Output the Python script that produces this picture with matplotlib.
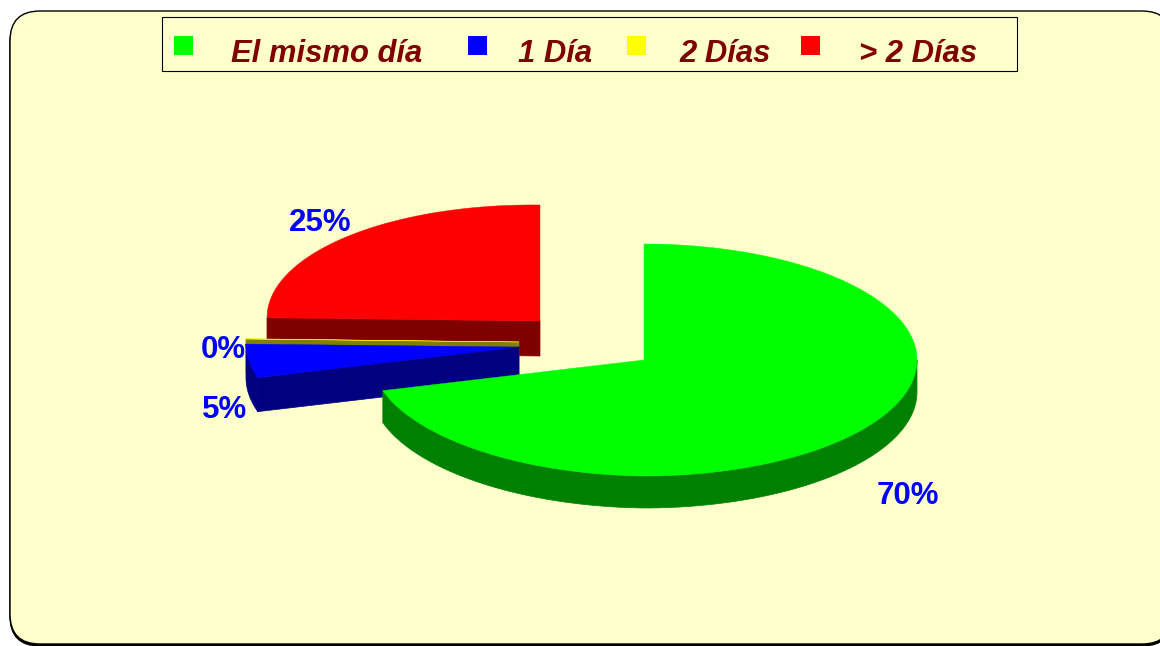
import numpy as np
import matplotlib
matplotlib.use('Agg')
import matplotlib.pyplot as plt
from matplotlib.patches import FancyBboxPatch, Polygon, Rectangle

categories = ['El mismo día', '1 Día', '2 Días', '> 2 Días']
values = [70.3, 4.65, 0.05, 25.0]
pct_labels = ['70%', '5%', '0%', '25%']

top_colors = ['#00ff00', '#0000ff', '#ffff00', '#ff0000']
side_colors = ['#008000', '#000080', '#808000', '#800000']

# pie centres in pixels (each slice is pulled out on its own)
centers = [(644, 360), (519, 347), (519, 342), (540, 321)]
depths = [32, 34, 34, 35]
rx, ry = 273, 116
tilt = 0.012

plt.rcParams['font.family'] = ['Liberation Sans', 'DejaVu Sans']

fig = plt.figure(figsize=(11.6, 6.46), dpi=100, facecolor='white')
ax = fig.add_axes([0, 0, 1, 1])
ax.set_xlim(0, 1160)
ax.set_ylim(646, 0)
ax.axis('off')

# background panel, runs off the right side
for dx, dy, fc, ec in [(0, 2, 'black', 'black'), (0, 0, '#ffffcc', 'black')]:
    ax.add_patch(FancyBboxPatch((40 + dx, 41 + dy), 1102, 573,
                                boxstyle='round,pad=30,rounding_size=30',
                                fc=fc, ec=ec, lw=1, clip_on=True))


def pt(c, a):
    x = c[0] + rx * np.sin(a)
    y = c[1] - ry * np.cos(a) + tilt * np.minimum(x - c[0], 0)
    return x, y


def draw_slice(i, a0, a1):
    c = centers[i]
    d = depths[i]
    top = top_colors[i]
    side = side_colors[i]
    # cut face on the start radius, faces the viewer when it opens downward
    if np.cos(a0 - np.pi / 2) < 0:
        px, py = pt(c, a0)
        ax.add_patch(Polygon([c, (px, py), (px, py + d), (c[0], c[1] + d)],
                             fc=side, ec=side, lw=0.5, zorder=3))
    # outer rim, only the front half shows
    r0 = max(a0, np.pi / 2)
    r1 = min(a1, 3 * np.pi / 2)
    if r1 > r0:
        xs, ys = pt(c, np.linspace(r0, r1, 80))
        rim = list(zip(xs, ys)) + list(zip(xs[::-1], ys[::-1] + d))
        ax.add_patch(Polygon(rim, fc=side, ec=side, lw=0.5, zorder=3))
    xs, ys = pt(c, np.linspace(a0, a1, 120))
    ax.add_patch(Polygon([c] + list(zip(xs, ys)), fc=top, ec=top, lw=0.3, zorder=3))


fracs = np.array(values) / sum(values) * 2 * np.pi
ends = np.cumsum(fracs)
starts = ends - fracs
# back slices first so the front ones cover them
for i in [3, 2, 1, 0]:
    draw_slice(i, starts[i], ends[i])

label_pos = [(908, 496), (225, 410), (223, 350), (320, 223)]
for lab, (x, y) in zip(pct_labels, label_pos):
    ax.text(x, y, lab, color='#0000ff', fontsize=22.5, fontweight='bold',
            ha='center', va='center', zorder=5)

# legend drawn by hand to keep the wide spacing of the original
ax.add_patch(Rectangle((162, 17), 855, 54, fc='#ffffcc', ec='black', lw=0.8, zorder=4))
swatch_x = [174, 468, 627, 801]
text_x = [231, 518, 679, 859]
for name, col, sx, tx in zip(categories, top_colors, swatch_x, text_x):
    ax.add_patch(Rectangle((sx, 36), 19, 19, fc=col, ec='none', zorder=5))
    ax.text(tx, 62, name, color='#800000', fontsize=22.3, fontweight='bold',
            fontstyle='italic', ha='left', va='baseline', zorder=5)

fig.savefig('out.png', dpi=100)
